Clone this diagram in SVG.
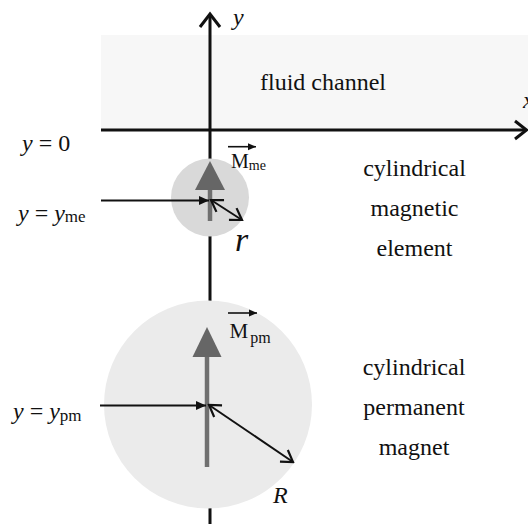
<svg xmlns="http://www.w3.org/2000/svg" width="528" height="524" viewBox="0 0 528 524">
  <style>
    .t { font-family: "Liberation Serif", Tinos, "Times New Roman", "DejaVu Serif", serif; font-size: 24px; fill: #111; }
    .it { font-style: italic; }
    .m20 { font-size: 20px; }
    .m21 { font-size: 21px; }
    .s14 { font-size: 14px; }
    .s16 { font-size: 16px; }
    .s17 { font-size: 17px; }
    .r34 { font-size: 34px; }
    .axis { stroke: #111; stroke-width: 3; fill: none; }
    .ptr { stroke: #111; stroke-width: 2; fill: none; }
    .gray { fill: #666; }
    .stem { stroke: #707070; stroke-width: 4.5; }
  </style>
  <defs>
    <marker id="fillHead" markerUnits="userSpaceOnUse" viewBox="0 -5 10 10" markerWidth="10" markerHeight="10" refX="10" refY="0" orient="auto">
      <path d="M0,-4.5 L10,0 L0,4.5 z" fill="#111"/>
    </marker>
    <marker id="smallHead" markerUnits="userSpaceOnUse" viewBox="0 -4 8 8" markerWidth="8" markerHeight="8" refX="8" refY="0" orient="auto">
      <path d="M0,-3.5 L8,0 L0,3.5 z" fill="#111"/>
    </marker>
    <marker id="openHead" markerUnits="userSpaceOnUse" viewBox="-13 -9 15 18" markerWidth="15" markerHeight="18" refX="0" refY="0" orient="auto-start-reverse">
      <path d="M-11,-7 L0,0 L-11,7" fill="none" stroke="#111" stroke-width="2.2"/>
    </marker>
  </defs>

  <g id="fluid-channel">
    <rect x="101" y="35" width="427" height="95" fill="#f7f7f7"/>
    <text class="t" x="260" y="90">fluid channel</text>
  </g>

  <g id="axes">
    <line class="axis" x1="101" y1="130" x2="526" y2="130"/>
    <polyline class="axis" points="515,121 526.5,130 515,139"/>
    <line class="axis" x1="210" y1="14" x2="210" y2="524"/>
    <polyline class="axis" points="200,27 210,14 220,27"/>
    <text class="t it" x="233" y="25">y</text>
    <text class="t it" x="523" y="108">x</text>
    <text class="t" x="22" y="151"><tspan class="it">y</tspan> = 0</text>
  </g>

  <g id="magnetic-element">
    <circle cx="210" cy="197.5" r="39" fill="#d9d9d9"/>
    <line class="stem" x1="210" y1="188" x2="210" y2="221"/>
    <polygon class="gray" points="210,161 195,190 225,190"/>
    <line x1="228" y1="146.7" x2="256" y2="146.7" stroke="#111" stroke-width="1.6" marker-end="url(#smallHead)"/>
    <text class="t m20" x="231" y="168">M<tspan class="s14" dy="1.5">me</tspan></text>
    <text class="t it r34" x="235" y="251">r</text>
    <text class="t" x="414.5" y="176" text-anchor="middle">cylindrical</text>
    <text class="t" x="414.5" y="216" text-anchor="middle">magnetic</text>
    <text class="t" x="414.5" y="256" text-anchor="middle">element</text>
  </g>

  <g id="permanent-magnet">
    <circle cx="208" cy="404.5" r="104" fill="#ebebeb"/>
    <line class="stem" x1="207" y1="355" x2="207" y2="467"/>
    <polygon class="gray" points="207,327 192.5,357 221.5,357"/>
    <line x1="228" y1="313" x2="257" y2="313" stroke="#111" stroke-width="1.6" marker-end="url(#smallHead)"/>
    <text class="t m21" x="229.5" y="338">M<tspan class="s16" dx="2" dy="5">pm</tspan></text>
    <text class="t it" x="273" y="503">R</text>
    <text class="t" x="414" y="375" text-anchor="middle">cylindrical</text>
    <text class="t" x="414" y="415" text-anchor="middle">permanent</text>
    <text class="t" x="414" y="455" text-anchor="middle">magnet</text>
  </g>

  <g id="connectors">
    <line class="ptr" x1="101" y1="200.5" x2="209" y2="200.5" marker-end="url(#fillHead)"/>
    <text class="t" x="18" y="221"><tspan class="it">y</tspan> = <tspan class="it">y</tspan><tspan class="s17" dy="1">me</tspan></text>
    <line class="ptr" x1="211" y1="200" x2="242" y2="220" marker-start="url(#openHead)" marker-end="url(#openHead)"/>
    <line class="ptr" x1="100" y1="405.5" x2="206" y2="405.5" marker-end="url(#fillHead)"/>
    <text class="t" x="13" y="419"><tspan class="it">y</tspan> = <tspan class="it">y</tspan><tspan class="s17" dy="2">pm</tspan></text>
    <line class="ptr" x1="209" y1="405" x2="293" y2="462" marker-start="url(#openHead)" marker-end="url(#openHead)"/>
  </g>
</svg>
